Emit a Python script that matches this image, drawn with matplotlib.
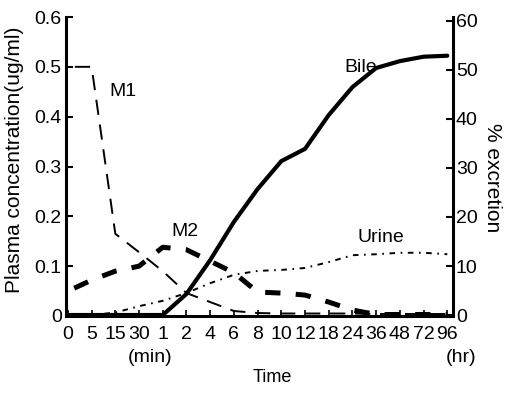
import matplotlib
matplotlib.use('Agg')
import matplotlib.pyplot as plt

plt.rcParams['font.family'] = ['Liberation Sans', 'DejaVu Sans']
plt.rcParams['lines.scale_dashes'] = False

categories = ['0', '5', '15', '30', '1', '2', '4', '6', '8', '10', '12',
              '18', '24', '36', '48', '72', '96']
m1 = [0.5, 0.5, 0.165, 0.128, 0.09, 0.046, 0.028, 0.01, 0.006, 0.005,
      0.005, 0.005, 0.005, 0.004, 0.004, 0.004, 0.004]
m2 = [0.05, 0.072, 0.09, 0.10, 0.138, 0.133, 0.11, 0.087, 0.048, 0.046,
      0.042, 0.028, 0.012, 0.003, 0.003, 0.003, 0.003]
bile = [0, 0, 0, 0, 0, 4.3, 11.2, 19, 25.7, 31.4, 33.9, 40.8, 46.5, 50.4,
        51.8, 52.7, 52.9]
urine = [0, 0, 0.5, 1.8, 2.9, 4.5, 6.5, 8.2, 9.0, 9.2, 9.6, 10.8, 12.2,
         12.4, 12.7, 12.7, 12.4]
left_ticks = [0, 0.1, 0.2, 0.3, 0.4, 0.5, 0.6]
left_labels = ['0', '0.1', '0.2', '0.3', '0.4', '0.5', '0.6']
right_ticks = [0, 10, 20, 30, 40, 50, 60]

x = list(range(len(categories)))

fig = plt.figure(figsize=(5.10, 3.95), dpi=100)
ax = fig.add_axes([66/510, 79/395, 387/510, 299/395])
ax2 = ax.twinx()

ax.plot(x, m1, color='black', lw=1.4, linestyle=(13, (11, 7)))
ax.plot(x, m2, color='black', lw=3.6, linestyle=(17, (11, 11)))
ax2.plot(x, bile, color='black', lw=3.0, solid_capstyle='round')
ax2.plot(x, urine, color='black', lw=1.4, linestyle=(0, (4, 4, 1.2, 4)))

ax.set_xlim(-0.08, 16.24)
ax.set_ylim(0, 0.6)
ax2.set_ylim(-0.2, 60.8)

ax.set_xticks(x)
ax.set_xticklabels(categories)
ax.set_yticks(left_ticks)
ax.set_yticklabels(left_labels)
ax2.set_yticks(right_ticks)
ax2.set_yticklabels([str(t) for t in right_ticks])

for a in (ax, ax2):
    a.spines['top'].set_visible(False)
    for s in ('left', 'right', 'bottom'):
        a.spines[s].set_linewidth(2.2)
ax.spines['right'].set_visible(False)
ax2.spines['left'].set_visible(False)
ax2.spines['bottom'].set_visible(False)

ax.tick_params(axis='y', direction='in', length=5, width=1.5, labelsize=14, pad=3)
ax.tick_params(axis='x', direction='in', length=4, width=1.2, labelsize=14, pad=7)
ax2.tick_params(axis='y', direction='in', length=5, width=1.5, labelsize=14, pad=2)

ax.text(2.32, 0.45, 'M1', fontsize=14, ha='center', va='center')
ax.text(4.94, 0.169, 'M2', fontsize=14, ha='center', va='center')
ax.text(12.36, 0.498, 'Bile', fontsize=14, ha='center', va='center')
ax.text(13.2, 0.157, 'Urine', fontsize=14, ha='center', va='center')

fig.text(15/510, 1 - 160/395, 'Plasma concentration(ug/ml)', fontsize=15,
         rotation=90, ha='center', va='center')
fig.text(493/510, 1 - 178/395, '% excretion', fontsize=15,
         rotation=270, ha='center', va='center')
fig.text(150/510, 1 - 357/395, '(min)', fontsize=14, ha='center', va='center')
fig.text(461/510, 1 - 357/395, '(hr)', fontsize=14, ha='center', va='center')
fig.text(272/510, 1 - 377/395, 'Time', fontsize=13, ha='center', va='center')

fig.savefig('out.png', dpi=100)
